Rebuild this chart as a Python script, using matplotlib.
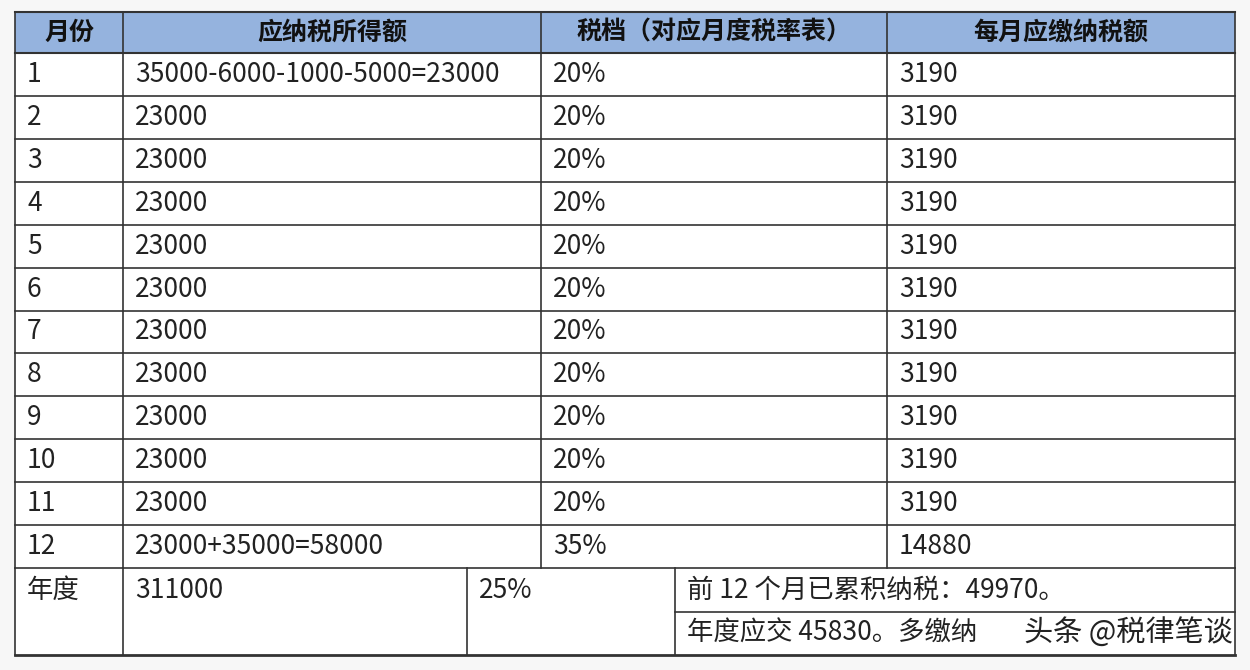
import matplotlib
matplotlib.use("Agg")
import matplotlib.pyplot as plt

plt.rcParams["font.family"] = ["Noto Sans CJK SC", "DejaVu Sans"]

headers = ["月份", "应纳税所得额", "税档（对应月度税率表）", "每月应缴纳税额"]
months = ["1", "2", "3", "4", "5", "6", "7", "8", "9", "10", "11", "12"]
incomes = ["35000-6000-1000-5000=23000"] + ["23000"] * 10 + ["23000+35000=58000"]
rates = ["20%"] * 11 + ["35%"]
taxes = ["3190"] * 11 + ["14880"]
annual = ["年度", "311000", "25%", "前 12 个月已累积纳税：49970。", "年度应交 45830。多缴纳"]
watermark = "头条 @税律笔谈"

W, H = 1250, 670
fig = plt.figure(figsize=(W / 100, H / 100), dpi=100)
ax = fig.add_axes([0, 0, 1, 1])
ax.set_xlim(0, W)
ax.set_ylim(H, 0)
ax.axis("off")
fig.patch.set_facecolor("#f7f7f7")

L, R = 15, 1235
cols = [15, 123, 541, 887, 1235]
top, hb = 12, 53
rh = (568 - hb) / 12
lc = "#333333"
fs = 19

ax.add_patch(plt.Rectangle((L, hb), R - L, 655 - hb, facecolor="white", edgecolor="none", zorder=0))
ax.add_patch(plt.Rectangle((L, top), R - L, hb - top, facecolor="#95b3de", edgecolor="none", zorder=0))

for i, h in enumerate(headers):
    ax.text((cols[i] + cols[i + 1]) / 2, (top + hb) / 2, h, ha="center", va="center",
            fontsize=18, fontweight="bold", color="#111111")

for r in range(12):
    yc = hb + rh * (r + 0.5)
    for i, v in enumerate([months[r], incomes[r], rates[r], taxes[r]]):
        ax.text(cols[i] + 12, yc, v, ha="left", va="center", fontsize=fs, color="#222222")

ax.plot([L, R], [top, top], color=lc, lw=1.5)
ax.plot([L, R], [hb, hb], color=lc, lw=1.5)
for r in range(1, 13):
    y = hb + rh * r
    ax.plot([L, R], [y, y], color=lc, lw=1.2)
ax.plot([L, R], [655, 655], color=lc, lw=2)
for x in cols:
    ax.plot([x, x], [top, 568], color=lc, lw=1.2)

bcols = [15, 123, 467, 675, 1235]
for x in bcols:
    ax.plot([x, x], [568, 655], color=lc, lw=1.2)
ax.plot([675, R], [612, 612], color=lc, lw=1.2)
ytop = 590
for i in range(4):
    ax.text(bcols[i] + 12, ytop, annual[i], ha="left", va="center", fontsize=fs, color="#222222")
ax.text(bcols[3] + 12, 633, annual[4], ha="left", va="center", fontsize=fs, color="#222222")
ax.text(1233, 633, watermark, ha="right", va="center", fontsize=21, color="#222222", zorder=4)

fig.savefig("out.png", dpi=100, facecolor=fig.get_facecolor())
